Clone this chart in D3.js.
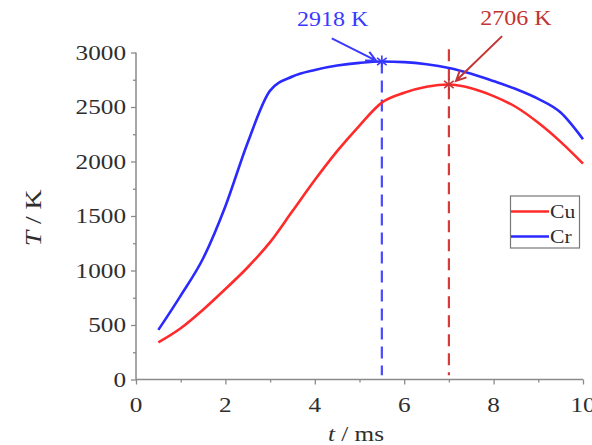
<!DOCTYPE html>
<html>
<head>
<meta charset="utf-8">
<script src="https://cdn.jsdelivr.net/npm/d3@7"></script>
<style>
  html, body { margin: 0; padding: 0; background: #fff; }
  svg { display: block; }
</style>
</head>
<body>
<svg id="chart" width="592" height="445"></svg>
<script>
// Time axis (ms)
const times = [0.5, 1, 1.5, 2, 2.5, 3, 3.5, 4, 4.5, 5, 5.5, 6, 6.5, 7, 7.5, 8, 8.5, 9, 9.5, 10];
// Temperature (K) for each material
const cuTemps = [340, 470, 640, 830, 1030, 1260, 1545, 1830, 2095, 2330, 2540, 2630, 2685, 2706, 2672, 2600, 2500, 2355, 2180, 1980];
const crTemps = [455, 770, 1110, 1590, 2175, 2650, 2780, 2840, 2880, 2905, 2918, 2912, 2892, 2858, 2805, 2738, 2665, 2575, 2450, 2205];
const seriesNames = ["Cu", "Cr"];
const seriesColors = ["#ff2a2a", "#2a2aff"];
// Peak annotations
const peakTimes = [7, 5.5];
const peakTemps = [2706, 2918];
const peakLabels = ["2706 K", "2918 K"];
const peakColors = ["#c43434", "#3a3aff"];
// Tick labels
const xTicks = [0, 2, 4, 6, 8, 10];
const yTicks = [0, 500, 1000, 1500, 2000, 2500, 3000];

const svg = d3.select("#chart");
const FONT = "'Liberation Serif', 'Times New Roman', serif";
const SX = 1.2; // horizontal stretch of the lettering

const x = d3.scaleLinear().domain([0, 10]).range([136, 583]);
const y = d3.scaleLinear().domain([0, 3000]).range([379.5, 52.5]);

const axisColor = "#8a8a8a";
const textColor = "#2e2e2e";

function stretchedText(parent, px, py, str, opts) {
  const g = parent.append("g").attr("transform", `translate(${px},${py})` + (opts.rotate ? ` rotate(${opts.rotate})` : ""));
  const t = g.append("text")
    .attr("transform", `scale(${SX},1)`)
    .attr("font-family", FONT)
    .attr("font-size", opts.size)
    .attr("fill", opts.fill || textColor)
    .attr("text-anchor", opts.anchor || "start");
  return t.text(str);
}

// Axes
const xAxis = d3.axisBottom(x).tickValues(xTicks).tickSize(5).tickFormat("");
const yAxis = d3.axisLeft(y).tickValues(yTicks).tickSize(5).tickFormat("");
const xMinor = d3.axisBottom(x).tickValues([1, 3, 5, 7, 9]).tickSize(3).tickFormat("");
const yMinor = d3.axisLeft(y).tickValues([250, 750, 1250, 1750, 2250, 2750]).tickSize(3).tickFormat("");

function styleAxis(g) {
  g.selectAll("path").attr("stroke", axisColor).attr("stroke-width", 1.5);
  g.selectAll("line").attr("stroke", axisColor).attr("stroke-width", 1.3);
}

svg.append("g").attr("transform", `translate(0,${y(0)})`).call(xAxis).call(styleAxis)
  .select(".domain").attr("d", `M${x(0)},0H${x(10)}`);
svg.append("g").attr("transform", `translate(0,${y(0)})`).call(xMinor).call(styleAxis)
  .select(".domain").remove();
svg.append("g").attr("transform", `translate(${x(0)},0)`).call(yAxis).call(styleAxis)
  .select(".domain").attr("d", `M0,${y(0)}V${y(3000)}`);
svg.append("g").attr("transform", `translate(${x(0)},0)`).call(yMinor).call(styleAxis)
  .select(".domain").remove();

// Tick labels
xTicks.forEach(v => {
  stretchedText(svg, x(v), 412, String(v), { size: 21, anchor: "middle" });
});
yTicks.forEach(v => {
  stretchedText(svg, 126, y(v) + 7, String(v), { size: 21, anchor: "end" });
});

// Axis titles
const xt = stretchedText(svg, 356, 441, "", { size: 21, anchor: "middle" });
xt.append("tspan").attr("font-style", "italic").text("t");
xt.append("tspan").text(" / ms");
const yt = stretchedText(svg, 41, 218, "", { size: 23, anchor: "middle", rotate: -90 });
yt.append("tspan").attr("font-style", "italic").text("T");
yt.append("tspan").text(" / K");

// Dashed guides at the peaks
const guideTop = [3030, 2918];
peakTimes.forEach((t, i) => {
  svg.append("line")
    .attr("x1", x(t)).attr("x2", x(t))
    .attr("y1", y(guideTop[i])).attr("y2", y(40))
    .attr("stroke", i === 0 ? "#d83a3a" : "#4a4aff")
    .attr("stroke-width", 2.2)
    .attr("stroke-dasharray", "12,7");
});

// Curves
const line = d3.line().x(d => x(d[0])).y(d => y(d[1])).curve(d3.curveMonotoneX);
[cuTemps, crTemps].forEach((vals, i) => {
  svg.append("path")
    .datum(times.map((t, j) => [t, vals[j]]))
    .attr("d", line)
    .attr("fill", "none")
    .attr("stroke", seriesColors[i])
    .attr("stroke-width", 2.6)
    .attr("stroke-linejoin", "round");
});

// Peak markers (asterisks)
peakTimes.forEach((t, i) => {
  const cx = x(t), cy = y(peakTemps[i]);
  const r = 6;
  svg.append("path")
    .attr("d", `M${cx},${cy - r}V${cy + r}M${cx - r * 0.8},${cy - r * 0.6}L${cx + r * 0.8},${cy + r * 0.6}M${cx - r * 0.8},${cy + r * 0.6}L${cx + r * 0.8},${cy - r * 0.6}`)
    .attr("stroke", peakColors[i])
    .attr("stroke-width", 1.6)
    .attr("fill", "none");
});

// Arrows and labels (start/end in data units)
const arrowStart = [[8.19, 3150], [4.38, 3130]];
const arrowEnd = [[7.16, 2740], [5.37, 2925]];
const labelPos = [[8.5, 3255], [4.4, 3240]];
peakTimes.forEach((t, i) => {
  const x1 = x(arrowStart[i][0]), y1 = y(arrowStart[i][1]);
  const x2 = x(arrowEnd[i][0]), y2 = y(arrowEnd[i][1]);
  const ang = Math.atan2(y2 - y1, x2 - x1);
  const L = 11, spread = 0.45;
  const ax = x2 - L * Math.cos(ang - spread), ay = y2 - L * Math.sin(ang - spread);
  const bx = x2 - L * Math.cos(ang + spread), by = y2 - L * Math.sin(ang + spread);
  svg.append("path")
    .attr("d", `M${x1},${y1}L${x2},${y2}M${ax},${ay}L${x2},${y2}L${bx},${by}`)
    .attr("stroke", peakColors[i])
    .attr("stroke-width", 2)
    .attr("fill", "none")
    .attr("stroke-linejoin", "miter");
  stretchedText(svg, x(labelPos[i][0]), y(labelPos[i][1]), peakLabels[i],
    { size: 20, anchor: "middle", fill: peakColors[i] });
});

// Legend
const legend = svg.append("g");
legend.append("rect")
  .attr("x", 510.5).attr("y", 196).attr("width", 69).attr("height", 52)
  .attr("fill", "#fff").attr("stroke", "#777").attr("stroke-width", 1.2);
seriesNames.forEach((name, i) => {
  const ly = 211.5 + i * 25;
  legend.append("line")
    .attr("x1", 511).attr("x2", 549).attr("y1", ly).attr("y2", ly)
    .attr("stroke", seriesColors[i]).attr("stroke-width", 2.6);
  stretchedText(legend, 550, ly + 6, name, { size: 18, anchor: "start" });
});
</script>
</body>
</html>
